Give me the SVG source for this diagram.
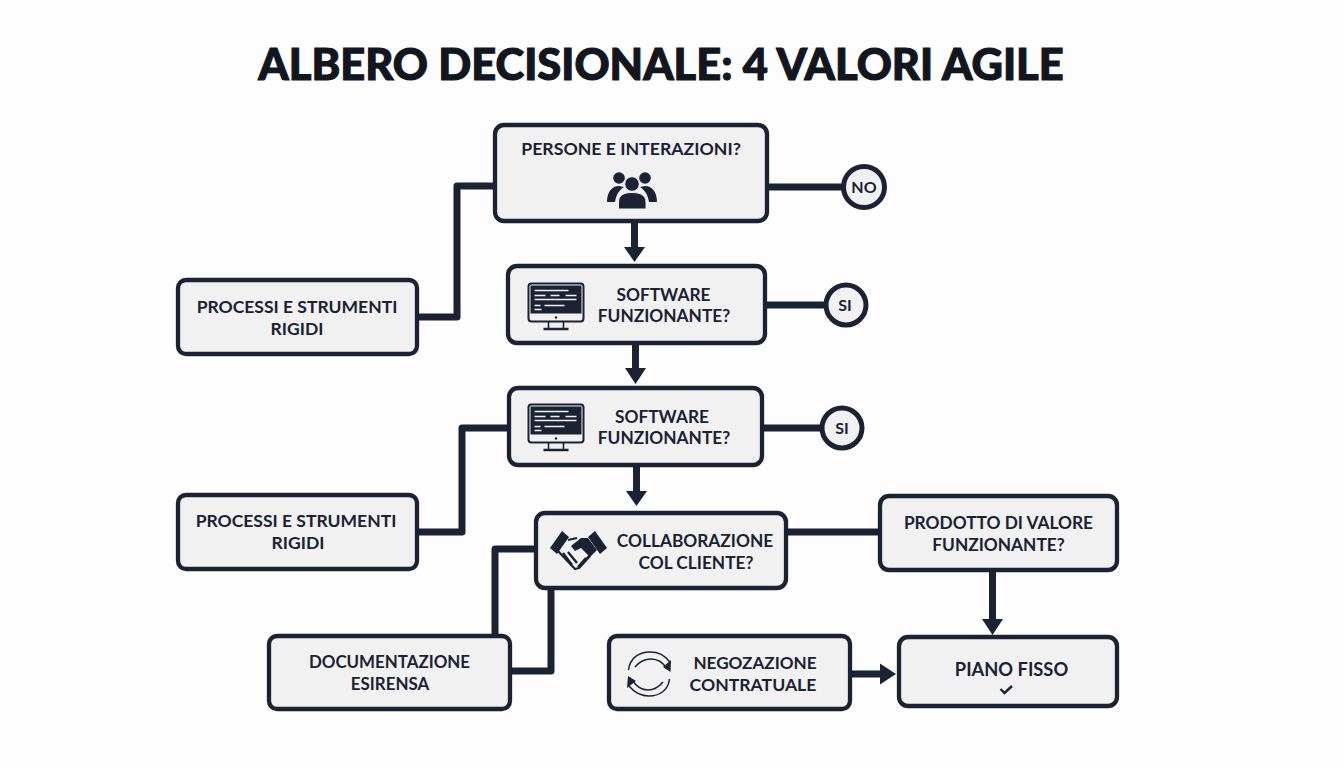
<svg xmlns="http://www.w3.org/2000/svg" xmlns:xlink="http://www.w3.org/1999/xlink" width="1344" height="768" viewBox="0 0 1344 768">
<style>
.box{fill:#f1f1f2;stroke:#1a2233;stroke-width:4.3}
.c{fill:#f1f1f2;stroke:#1a2233;stroke-width:5}
.t{font-family:"Lato","Liberation Sans",sans-serif;font-weight:700;font-size:17.3px;fill:#1a2233;text-anchor:middle}
.title{font-family:"Lato","Liberation Sans",sans-serif;font-weight:900;font-size:43.4px;fill:#11161f;stroke:#11161f;stroke-width:1.1;text-anchor:middle}
.l{fill:none;stroke:#1a2233;stroke-width:7;stroke-linejoin:round}
.h{fill:#1a2233}
.b{font-size:16px}
</style>
<defs>
<symbol id="mon" viewBox="0 0 58 48" width="58" height="48" overflow="visible">
<rect x="1" y="1" width="55" height="38" rx="3" fill="#f1f1f2" stroke="#1a2233" stroke-width="2"/>
<rect x="3" y="3" width="51" height="28" fill="#1a2233"/>
<path d="M7 8H41M7 13H18M23 13H32M38 13H49M7 17H49M7 23H13M17 23H37M7 27H14" stroke="#f1f1f2" stroke-width="1.4" fill="none"/>
<circle cx="28.5" cy="35" r="1.2" fill="#1a2233"/>
<path d="M21 39V46M36 39V46" stroke="#1a2233" stroke-width="1.6" fill="none"/>
<path d="M16 46.500H41" stroke="#1a2233" stroke-width="2.500" fill="none"/>
</symbol>
</defs>
<rect width="1344" height="768" fill="#fdfdfd"/>
<text class="title" x="661" y="80">ALBERO DECISIONALE: 4 VALORI AGILE</text>
<g id="connectors">
<path class="l" d="M495 186H457V317H417"/>
<path class="l" d="M767 187H844"/>
<path class="l" d="M765 305H827"/>
<path class="l" d="M762 428H824"/>
<path class="l" d="M509 428H462V532H417"/>
<path class="l" d="M786 532H880"/>
<path class="l" d="M536 549H495V636"/>
<path class="l" d="M551 588V671H510"/>
<path class="l" d="M634.500 221V250"/><path class="h" d="M624 247H645L634.500 262Z"/>
<path class="l" d="M635.500 343V371"/><path class="h" d="M625 368H646L635.500 384Z"/>
<path class="l" d="M636.500 465V494"/><path class="h" d="M626 491H647L636.500 506Z"/>
<path class="l" d="M992.500 570V622"/><path class="h" d="M982 619H1003L992.500 635Z"/>
<path class="l" d="M850 674H883"/><path class="h" d="M880 663.500V684.500L896 674Z"/>
</g>
<g id="n-persone">
<rect class="box" x="495" y="125" width="272" height="96" rx="9"/>
<text class="t" x="631" y="155" style="font-size:17.7px">PERSONE E INTERAZIONI?</text>
<g class="h">
<circle cx="619" cy="178" r="5.800"/><circle cx="645" cy="178" r="5.800"/>
<path d="M607 202C607 192 612 186 619 186L624 187C618 191 616 196 615 202ZM657 202C657 192 652 186 645 186L640 187C646 191 648 196 649 202Z"/>
<circle cx="632" cy="184" r="7.300" stroke="#f1f1f2" stroke-width="1"/>
<path d="M618.500 209V202C618.500 195 624 192.500 632 192.500C640 192.500 646 195 646 202V209Z" stroke="#f1f1f2" stroke-width="1"/>
</g>
</g>
<g id="n-no"><circle class="c" cx="864" cy="187" r="20.500"/><text class="t b" x="864" y="193">NO</text></g>
<g id="n-sw1">
<rect class="box" x="508" y="266" width="257" height="77" rx="9"/>
<use xlink:href="#mon" href="#mon" x="527.500" y="282.500"/>
<text class="t" x="663.500" y="301">SOFTWARE</text><text class="t" x="664" y="322">FUNZIONANTE?</text>
</g>
<g id="n-si1"><circle class="c" cx="846" cy="305" r="20"/><text class="t b" x="845" y="311">SI</text></g>
<g id="n-proc1">
<rect class="box" x="178" y="280" width="239" height="74" rx="8"/>
<text class="t" x="297" y="313" style="font-size:17.5px">PROCESSI E STRUMENTI</text><text class="t" x="297" y="335" style="font-size:17.5px">RIGIDI</text>
</g>
<g id="n-sw2">
<rect class="box" x="509" y="388" width="253" height="77" rx="9"/>
<use xlink:href="#mon" href="#mon" x="527.500" y="403.500"/>
<text class="t" x="662" y="423">SOFTWARE</text><text class="t" x="664" y="444">FUNZIONANTE?</text>
</g>
<g id="n-si2"><circle class="c" cx="842" cy="428" r="20"/><text class="t b" x="842" y="434">SI</text></g>
<g id="n-proc2">
<rect class="box" x="178" y="495" width="239" height="74" rx="8"/>
<text class="t" x="296" y="527" style="font-size:17.5px">PROCESSI E STRUMENTI</text><text class="t" x="298" y="549" style="font-size:17.5px">RIGIDI</text>
</g>
<g id="n-collab">
<rect class="box" x="536" y="513" width="250" height="75" rx="9"/>
<g>
<path class="h" d="M550 548L562 531L569 537L557 554ZM588 537L595 531L607 548L600 554Z"/>
<path d="M568 540L577 538M557 550L575 569L579 568L590 556" fill="none" stroke="#1a2233" stroke-width="2.200" stroke-linejoin="round"/>
<path class="h" d="M571 546L581 538L588 538L597 550L590 557L581 548L575 551Z"/>
<path d="M563 553L572 565M568 552L577 563M586 558L578 567M590 555L582 564" stroke="#1a2233" stroke-width="2.400" fill="none"/>
</g>
<text class="t" x="695" y="547">COLLABORAZIONE</text><text class="t" x="696" y="569">COL CLIENTE?</text>
</g>
<g id="n-prodotto">
<rect class="box" x="880" y="496" width="237" height="74" rx="9"/>
<text class="t" x="998.500" y="529">PRODOTTO DI VALORE</text><text class="t" x="998.500" y="551">FUNZIONANTE?</text>
</g>
<g id="n-doc">
<rect class="box" x="269" y="636" width="241" height="73" rx="8"/>
<text class="t" x="389.500" y="668" style="font-size:16.900px">DOCUMENTAZIONE</text><text class="t" x="390" y="690" style="font-size:16.900px">ESIRENSA</text>
</g>
<g id="n-neg">
<rect class="box" x="609" y="636" width="241" height="73" rx="8"/>
<path d="M628.500 670C630 657 640 652 650 652C659 652 664 655 670 662" fill="none" stroke="#1a2233" stroke-width="1.500"/>
<path d="M635 667C640 661 645 659 651 659C658 659 663 662 667 669" fill="none" stroke="#1a2233" stroke-width="1.500"/>
<path class="h" d="M671 660L670.500 672L663 667Z"/>
<path d="M669.500 679C668 691 659 696 649 696C640 696 634 692 629 686" fill="none" stroke="#1a2233" stroke-width="1.500"/>
<path d="M663 682C658 688 654 690 648 690C641 690 636 686 632 680" fill="none" stroke="#1a2233" stroke-width="1.500"/>
<path class="h" d="M627 688L628 676L636 681Z"/>
<text class="t" x="755" y="668.500" style="font-size:17.100px">NEGOZAZIONE</text><text class="t" x="753" y="690.500" style="font-size:17.600px">CONTRATUALE</text>
</g>
<g id="n-piano">
<rect class="box" x="899" y="637" width="218" height="69" rx="9"/>
<text class="t" x="1011.500" y="676" style="font-size:18.300px">PIANO FISSO</text>
<path d="M1000.500 689L1004.500 693L1012 686" fill="none" stroke="#1a2233" stroke-width="2.400"/>
</g>
</svg>
